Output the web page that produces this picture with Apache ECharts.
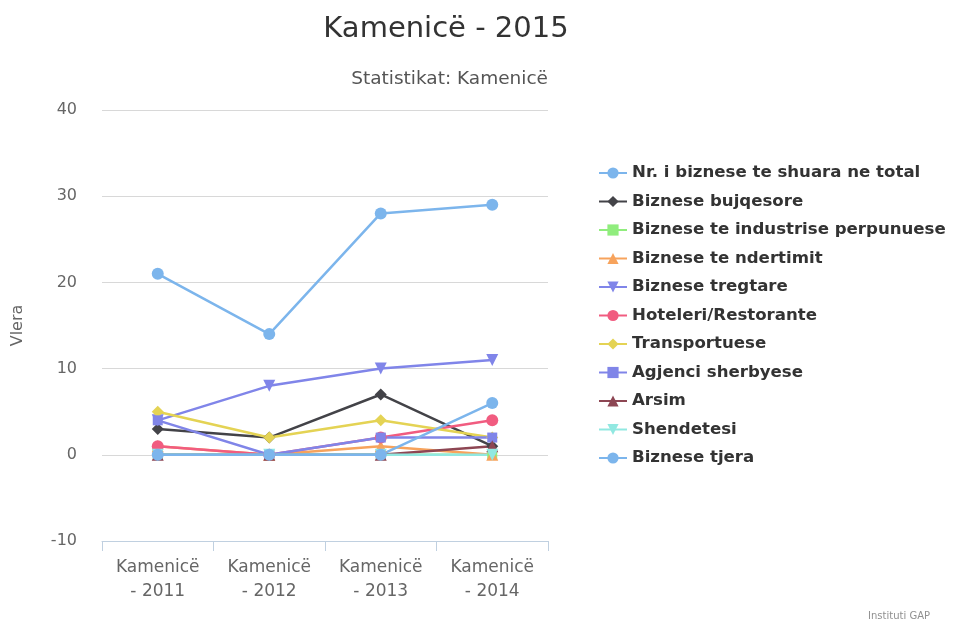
<!DOCTYPE html>
<html><head><meta charset="utf-8">
<script src="https://cdn.jsdelivr.net/npm/echarts@6/dist/echarts.min.js"></script>
<style>html,body{margin:0;padding:0;background:#fff}#c{width:979px;height:621px}</style>
</head><body><div id="c"></div>
<script>
const categories = ["Kamenicë\n- 2011", "Kamenicë\n- 2012", "Kamenicë\n- 2013", "Kamenicë\n- 2014"];
const seriesNames = ["Nr. i biznese te shuara ne total", "Biznese bujqesore", "Biznese te industrise perpunuese", "Biznese te ndertimit", "Biznese tregtare", "Hoteleri/Restorante", "Transportuese", "Agjenci sherbyese", "Arsim", "Shendetesi", "Biznese tjera"];
const totalValues = [21, 14, 28, 29];
const bujqesoreValues = [3, 2, 7, 1];
const industriseValues = [0, 0, 0, 0];
const ndertimitValues = [1, 0, 1, 0];
const tregtareValues = [4, 8, 10, 11];
const hoteleriValues = [1, 0, 2, 4];
const transportueseValues = [5, 2, 4, 2];
const agjenciValues = [4, 0, 2, 2];
const arsimValues = [0, 0, 0, 1];
const shendetesiValues = [0, 0, 0, 0];
const tjeraValues = [0, 0, 0, 6];
const yTicks = [-10, 0, 10, 20, 30, 40];

const allValues = [totalValues, bujqesoreValues, industriseValues, ndertimitValues, tregtareValues, hoteleriValues, transportueseValues, agjenciValues, arsimValues, shendetesiValues, tjeraValues];
const colors = ['#7cb5ec', '#434348', '#90ed7d', '#f7a35c', '#8085e9', '#f15c80', '#e4d354', '#8085e8', '#8d4653', '#91e8e1', '#7cb5ec'];
const symbols = ['circle', 'diamond', 'rect', 'triangle', 'triangle', 'circle', 'diamond', 'rect', 'triangle', 'triangle', 'circle'];
const rotates = [0, 0, 0, 0, 180, 0, 0, 0, 0, 180, 0];

const chart = echarts.init(document.getElementById('c'));
const font = 'DejaVu Sans';
chart.setOption({
  animation: false,
  color: colors,
  title: [
    { text: 'Kamenicë - 2015', left: 441, top: 10, textAlign: 'center',
      textStyle: { fontFamily: font, fontSize: 29, fontWeight: 'normal', color: '#333' } },
    { text: 'Statistikat: Kamenicë', right: 426, top: 65,
      textStyle: { fontFamily: font, fontSize: 18.5, fontWeight: 'normal', color: '#555' } },
    { text: 'Instituti GAP', right: 44, top: 606,
      textStyle: { fontFamily: font, fontSize: 10, fontWeight: 'normal', color: '#909090' } }
  ],
  legend: {
    orient: 'vertical', left: 593, top: 159,
    itemWidth: 28, itemHeight: 14, itemGap: 10.5,
    textStyle: { fontFamily: font, fontSize: 16.6, lineHeight: 18, fontWeight: 'bold', color: '#333' },
    data: seriesNames
  },
  grid: { left: 102, right: 431, top: 110, bottom: 80 },
  xAxis: {
    type: 'category', data: categories, boundaryGap: true,
    axisLine: { onZero: false, lineStyle: { color: '#C0D0E0' } },
    axisTick: { show: true, length: 10, lineStyle: { color: '#C0D0E0' } },
    axisLabel: { fontFamily: font, fontSize: 17, color: '#666', lineHeight: 24, margin: 15 }
  },
  yAxis: {
    type: 'value', min: yTicks[0], max: yTicks[yTicks.length - 1], interval: 10,
    name: 'Vlera', nameLocation: 'middle', nameGap: 76, nameRotate: 90,
    nameTextStyle: { fontFamily: font, fontSize: 16, color: '#666' },
    axisLine: { show: false }, axisTick: { show: false },
    axisLabel: { fontFamily: font, fontSize: 16, color: '#666', margin: 25 },
    splitLine: { lineStyle: { color: '#D8D8D8', width: 1 }, showMinLine: false }
  },
  series: seriesNames.map((n, i) => ({
    name: n, type: 'line', data: allValues[i],
    symbol: symbols[i], symbolRotate: rotates[i],
    symbolSize: symbols[i] === 'rect' ? 10 : 12,
    lineStyle: { width: 2.5, color: colors[i] },
    itemStyle: { color: colors[i] }
  }))
});
</script></body></html>
